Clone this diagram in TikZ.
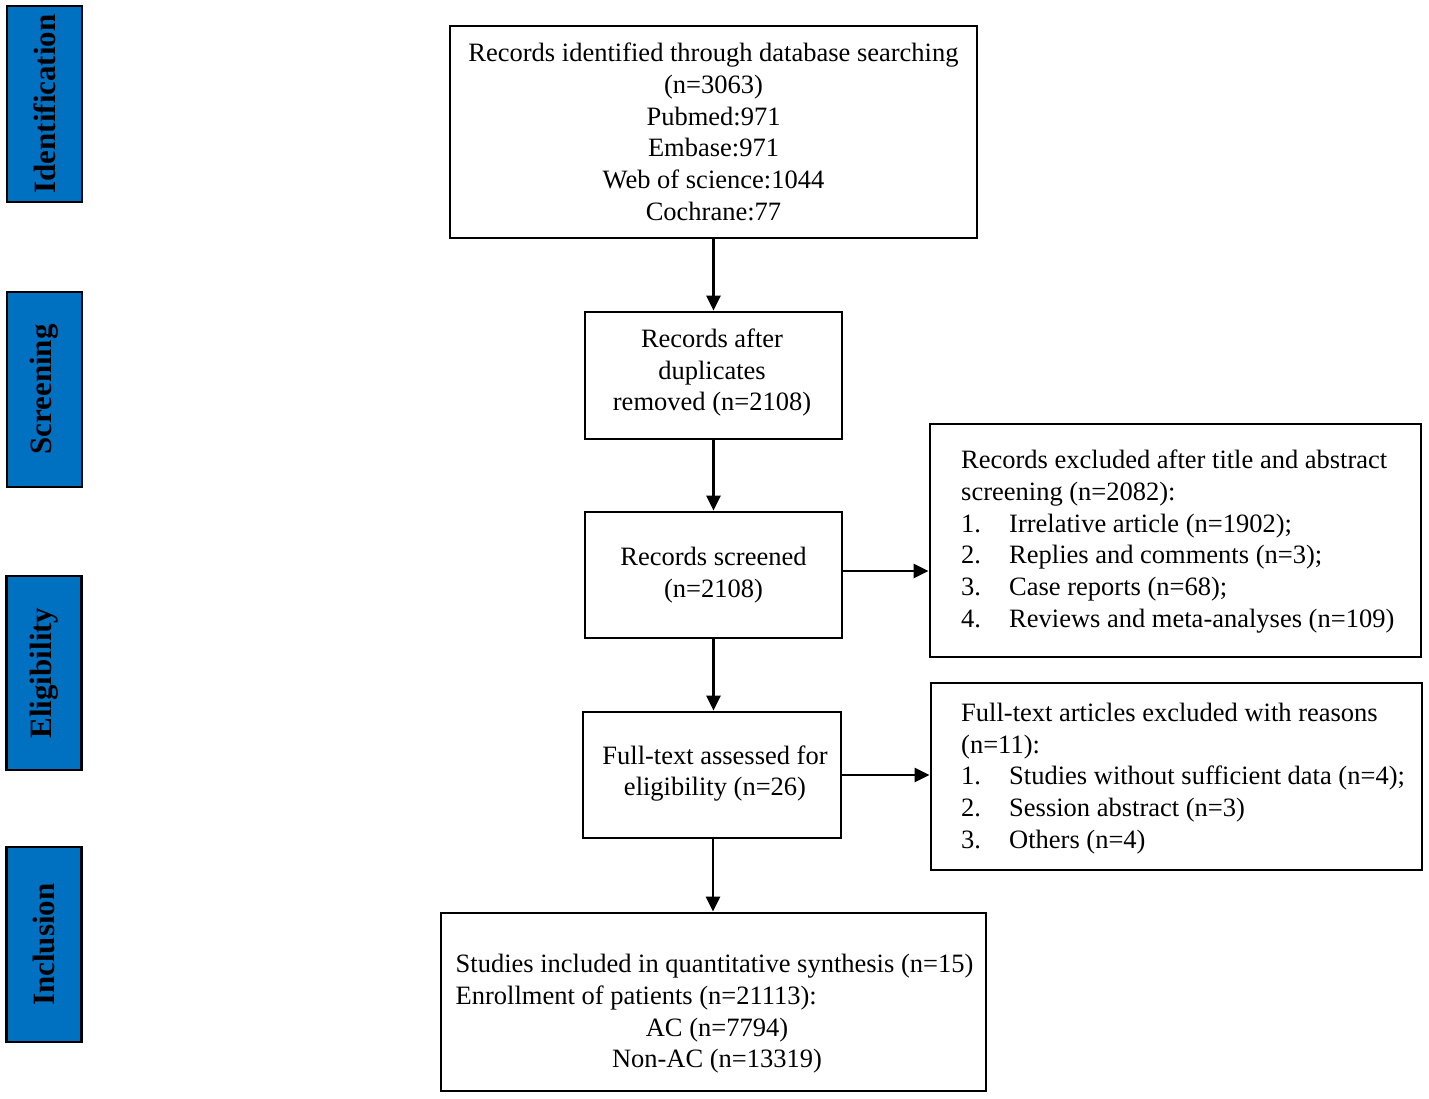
\documentclass[tikz,border=0pt]{standalone}
\usepackage{fontspec}
\setmainfont{Liberation Serif}
\usetikzlibrary{arrows.meta}
\definecolor{stageblue}{HTML}{0070C0}
\newcommand{\fs}{\fontsize{26.5}{31.7}\selectfont}
\begin{document}
\begin{tikzpicture}[x=1pt,y=-1pt,
  box/.style={draw, line width=2.8pt, inner sep=0pt, align=center, font=\fs},
  txt/.style={inner sep=0pt, align=left, font=\fs, anchor=west},
  stage/.style={draw, line width=2.8pt, fill=stageblue, rotate=90, inner sep=0pt,
     minimum height=75pt, font=\fontsize{31}{36}\selectfont\bfseries},
  arr/.style={line width=2.8pt, -{Triangle[length=15pt,width=14pt]}}]
\useasboundingbox (0,0) rectangle (1429,1099);
% stage labels
\node[stage, minimum width=196pt] (s1) at (44.5,104) {Identification};
\node[stage, minimum width=195pt] (s2) at (44.5,389.5) {Screening};
\node[stage, minimum width=194pt] (s3) at (44,673) {Eligibility};
\node[stage, minimum width=195pt] (s4) at (44,944.5) {Inclusion};
% main boxes
\node[box, minimum width=527pt, minimum height=212pt] (b1) at (713.5,132)
  {Records identified through database searching\\(n=3063)\\Pubmed:971\\Embase:971\\Web of science:1044\\Cochrane:77};
\node[box, minimum width=257pt, minimum height=127pt] (b2) at (713.5,375.5) {};
\node[inner sep=0pt, align=center, font=\fs] (t2) at (712,372.5)
  {Records after\\duplicates\\removed (n=2108)};
\node[box, minimum width=257pt, minimum height=126pt] (b3) at (713.5,575)
  {Records screened\\(n=2108)};
\node[box, minimum width=258pt, minimum height=126pt] (b4) at (712,775) {};
\node[inner sep=0pt, align=center, font=\fs] (t4) at (715,773.5)
  {Full-text assessed for\\eligibility (n=26)};
\node[box, minimum width=545pt, minimum height=178pt] (b5) at (713.5,1002) {};
\node[inner sep=0pt, font=\fs] (t5) at (714.5,1014)
  {\begin{tabular}{@{}l@{}}Studies included in quantitative synthesis (n=15)\\
   Enrollment of patients (n=21113):\\
   \multicolumn{1}{@{}c@{}}{\hspace{5pt}AC (n=7794)}\\
   \multicolumn{1}{@{}c@{}}{\hspace{5pt}Non-AC (n=13319)}\end{tabular}};
% exclusion boxes
\node[box, minimum width=491pt, minimum height=233pt] (e1) at (1175.5,540.5) {};
\node[txt] (te1) at (961,541.5)
  {Records excluded after title and abstract\\screening (n=2082):\\
   \makebox[48pt][l]{1.}Irrelative article (n=1902);\\
   \makebox[48pt][l]{2.}Replies and comments (n=3);\\
   \makebox[48pt][l]{3.}Case reports (n=68);\\
   \makebox[48pt][l]{4.}Reviews and meta-analyses (n=109)};
\node[box, minimum width=491pt, minimum height=187pt] (e2) at (1176.5,776.5) {};
\node[txt] (te2) at (961,778.5)
  {Full-text articles excluded with reasons\\(n=11):\\
   \makebox[48pt][l]{1.}Studies without sufficient data (n=4);\\
   \makebox[48pt][l]{2.}Session abstract (n=3)\\
   \makebox[48pt][l]{3.}Others (n=4)};
% arrows
\draw[arr] (b1.south) -- (b1.south |- b2.north);
\draw[arr] (b2.south) -- (b2.south |- b3.north);
\draw[arr] (b3.south) -- (b3.south |- b4.north);
\draw[arr] ([xshift=1pt]b4.south) -- ([xshift=1pt]b4.south |- b5.north);
\draw[arr] ([yshift=4pt]b3.east) -- ([yshift=4pt]b3.east -| e1.west);
\draw[arr] (b4.east) -- (b4.east -| e2.west);
\end{tikzpicture}
\end{document}
